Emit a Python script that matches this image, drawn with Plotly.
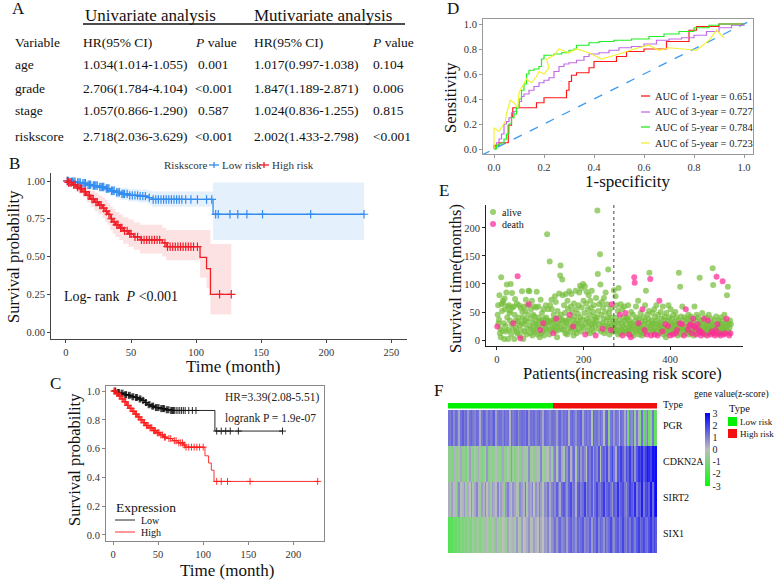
import plotly.graph_objects as go

W, H = 777, 581
FONT = "Liberation Serif"


def fx(p):
    return p / W


def fy(p):
    return 1 - p / H


# ---------------- Panel A: table ----------------
table_vars = ["age", "grade", "stage", "riskscore"]
uni_hr = ["1.034(1.014-1.055)", "2.706(1.784-4.104)", "1.057(0.866-1.290)", "2.718(2.036-3.629)"]
uni_p = ["0.001", "<0.001", "0.587", "<0.001"]
multi_hr = ["1.017(0.997-1.038)", "1.847(1.189-2.871)", "1.024(0.836-1.255)", "2.002(1.433-2.798)"]
multi_p = ["0.104", "0.006", "0.815", "<0.001"]

# ---------------- Panel B: KM by riskscore ----------------
low_t = [0, 3, 8, 12, 16, 20, 25, 30, 34, 38, 42, 48, 56, 63, 66, 113, 229]
low_s = [1.0, 0.995, 0.99, 0.985, 0.975, 0.97, 0.96, 0.95, 0.935, 0.925, 0.915, 0.905, 0.90, 0.89, 0.878, 0.78, 0.78]
low_up = [1.0, 1.0, 1.0, 0.998, 0.995, 0.99, 0.985, 0.978, 0.97, 0.962, 0.955, 0.947, 0.943, 0.935, 0.93, 0.99, 0.99]
low_lo = [1.0, 0.985, 0.975, 0.965, 0.955, 0.948, 0.935, 0.92, 0.90, 0.888, 0.875, 0.865, 0.858, 0.845, 0.83, 0.61, 0.61]
low_cens = [1, 2, 4, 5, 6, 7, 9, 10, 11, 13, 14, 15, 17, 18, 19, 21, 22, 23, 24, 26, 27, 28, 29, 31, 32, 33, 35, 36,
            37, 39, 40, 41, 43, 44, 45, 47, 49, 51, 53, 55, 57, 59, 61, 64, 67, 69, 71, 73, 75, 77, 79, 81, 83, 85,
            87, 89, 92, 96, 101, 108, 112, 115, 117, 126, 132, 139, 151, 188, 229]

high_t = [0, 2, 5, 8, 10, 13, 16, 19, 22, 25, 28, 30, 32, 34, 36, 38, 41, 44, 48, 52, 57, 74, 77, 103, 108, 111, 127]
high_s = [1.0, 0.99, 0.975, 0.96, 0.95, 0.93, 0.905, 0.88, 0.86, 0.84, 0.82, 0.80, 0.78, 0.75, 0.73, 0.71, 0.69,
          0.67, 0.65, 0.63, 0.61, 0.59, 0.565, 0.495, 0.42, 0.25, 0.25]
high_up = [1.0, 1.0, 0.995, 0.99, 0.985, 0.97, 0.955, 0.935, 0.92, 0.905, 0.89, 0.875, 0.855, 0.83, 0.815, 0.795,
           0.78, 0.76, 0.745, 0.725, 0.71, 0.69, 0.675, 0.675, 0.675, 0.583, 0.583]
high_lo = [1.0, 0.975, 0.95, 0.93, 0.915, 0.89, 0.86, 0.83, 0.80, 0.78, 0.755, 0.73, 0.71, 0.675, 0.65, 0.63, 0.61,
           0.585, 0.565, 0.545, 0.52, 0.50, 0.475, 0.36, 0.29, 0.117, 0.117]
high_cens = [1, 2, 3, 4, 6, 7, 9, 11, 12, 14, 15, 17, 18, 20, 21, 23, 24, 26, 27, 29, 31, 33, 35, 37, 39, 40, 42, 43,
             45, 47, 49, 50, 53, 55, 58, 60, 62, 64, 66, 68, 70, 72, 76, 78, 80, 82, 84, 86, 88, 90, 92, 94, 96, 98,
             101, 118, 127]

# ---------------- Panel C: KM by expression ----------------
c_low_t = [0, 4, 8, 12, 16, 20, 24, 28, 32, 35, 38, 42, 46, 52, 58, 63, 113, 188]
c_low_s = [1.0, 0.99, 0.985, 0.975, 0.97, 0.96, 0.955, 0.945, 0.935, 0.92, 0.905, 0.895, 0.885, 0.878, 0.87, 0.865,
           0.722, 0.722]
c_low_cens = [2, 3, 5, 6, 7, 9, 10, 11, 13, 14, 15, 17, 18, 19, 21, 22, 23, 25, 26, 27, 29, 30, 31, 33, 34, 36, 37,
              39, 40, 41, 43, 44, 45, 47, 48, 49, 50, 51, 53, 54, 55, 56, 57, 59, 60, 61, 62, 64, 65, 66, 67, 68, 70,
              72, 74, 76, 78, 80, 84, 88, 92, 115, 120, 125, 130, 139, 188]
c_high_t = [0, 3, 6, 9, 12, 15, 18, 21, 24, 27, 30, 33, 36, 40, 44, 48, 52, 56, 60, 66, 72, 78, 80, 102, 106, 109,
            112, 228]
c_high_s = [1.0, 0.985, 0.965, 0.945, 0.925, 0.90, 0.88, 0.86, 0.84, 0.82, 0.80, 0.78, 0.76, 0.745, 0.725, 0.71,
            0.695, 0.68, 0.67, 0.655, 0.64, 0.625, 0.61, 0.55, 0.50, 0.45, 0.372, 0.372]
c_high_cens = [1, 2, 4, 5, 7, 8, 10, 11, 13, 14, 16, 17, 19, 20, 22, 23, 25, 26, 28, 29, 31, 32, 34, 35, 37, 38, 39,
               41, 42, 43, 45, 46, 47, 49, 50, 51, 53, 55, 57, 58, 62, 64, 68, 70, 73, 75, 77, 79, 81, 84, 87, 90,
               93, 96, 100, 115, 120, 127, 152, 227]

# ---------------- Panel D: ROC ----------------
roc1_x = [0, 0, 0.02, 0.057, 0.07, 0.075, 0.17, 0.20, 0.29, 0.30, 0.31, 0.33, 0.38, 0.40, 0.49, 0.53, 0.60, 0.69,
          0.78, 0.81, 0.90, 1.0]
roc1_y = [0, 0.03, 0.05, 0.19, 0.26, 0.33, 0.37, 0.41, 0.47, 0.54, 0.59, 0.61, 0.65, 0.70, 0.74, 0.78, 0.80, 0.86,
          0.95, 0.98, 1.0, 1.0]
roc3_x = [0, 0.005, 0.01, 0.02, 0.03, 0.04, 0.05, 0.06, 0.07, 0.08, 0.09, 0.10, 0.11, 0.12, 0.14, 0.16, 0.18, 0.20,
          0.22, 0.24, 0.26, 0.28, 0.30, 0.33, 0.36, 0.38, 0.42, 0.46, 0.50, 0.55, 0.60, 0.65, 0.70, 0.75, 0.80, 0.85,
          0.90, 0.95, 1.0]
roc3_y = [0, 0.02, 0.05, 0.08, 0.12, 0.20, 0.22, 0.25, 0.29, 0.30, 0.33, 0.38, 0.42, 0.44, 0.47, 0.50, 0.53, 0.55,
          0.57, 0.62, 0.66, 0.68, 0.69, 0.71, 0.74, 0.76, 0.77, 0.79, 0.81, 0.82, 0.84, 0.87, 0.88, 0.89, 0.91, 0.94,
          0.97, 0.99, 1.0]
roc5_x = [0, 0.01, 0.02, 0.03, 0.04, 0.05, 0.06, 0.07, 0.08, 0.09, 0.10, 0.11, 0.12, 0.13, 0.14, 0.16, 0.18, 0.19,
          0.20, 0.24, 0.27, 0.30, 0.32, 0.33, 0.38, 0.42, 0.48, 0.55, 0.62, 0.68, 0.74, 0.80, 0.86, 0.90, 1.0]
roc5_y = [0, 0.03, 0.04, 0.05, 0.08, 0.12, 0.20, 0.25, 0.28, 0.33, 0.40, 0.47, 0.52, 0.60, 0.63, 0.64, 0.66, 0.72,
          0.75, 0.76, 0.77, 0.79, 0.80, 0.83, 0.85, 0.86, 0.87, 0.88, 0.90, 0.92, 0.94, 0.97, 0.99, 1.0, 1.0]
rocy_x = [0.0, 0.0, 0.02, 0.03, 0.045, 0.05, 0.065, 0.08, 0.095, 0.10, 0.12, 0.13, 0.15, 0.17, 0.18, 0.20, 0.22,
          0.21, 0.24, 0.26, 0.30, 0.33, 0.38, 0.43, 0.50, 0.56, 0.62, 0.66, 0.70, 0.76, 0.81, 0.86, 0.89, 0.92]
rocy_y = [0.0, 0.17, 0.14, 0.17, 0.22, 0.28, 0.39, 0.37, 0.33, 0.45, 0.52, 0.56, 0.53, 0.58, 0.62, 0.60, 0.65,
          0.72, 0.75, 0.80, 0.77, 0.80, 0.77, 0.72, 0.76, 0.80, 0.83, 0.79, 0.81, 0.80, 0.79, 0.87, 0.95, 0.89]
roc_labels = ["AUC of 1-year = 0.651", "AUC of 3-year = 0.727", "AUC of 5-year = 0.784", "AUC of 5-year = 0.723"]
roc_colors = ["#FF1A1A", "#C46BE8", "#22EE22", "#F2F230"]
ref_line = [-0.05, 1.05]

# ---------------- Panel E: survival time per patient ----------------
surv_months = [
    24, 45, 62, 30, 36, 80, 12, 20, 5, 112, 64, 52, 16, 70, 66, 30, 2, 74, 55, 25, 15, 85, 99, 40, 60, 2, 18, 62, 48, 35,
    52, 100, 10, 28, 84, 58, 19, 30, 60, 2, 45, 73, 35, 22, 15, 65, 12, 114, 33, 40, 62, 26, 8, 3, 57, 18, 30, 87, 50, 40,
    2, 60, 28, 15, 36, 52, 72, 10, 33, 20, 62, 45, 88, 64, 87, 25, 12, 38, 55, 20, 70, 8, 30, 45, 18, 60, 42, 14, 28, 35,
    58, 86, 22, 10, 25, 60, 40, 33, 5, 18, 72, 12, 35, 48, 24, 15, 30, 55, 8, 38, 28, 20, 62, 40, 17, 189, 35, 55, 26, 32,
    10, 140, 62, 18, 35, 72, 55, 20, 30, 12, 45, 36, 25, 78, 15, 68, 38, 22, 5, 52, 30, 40, 18, 83, 28, 115, 133, 45, 20, 36,
    108, 80, 35, 18, 62, 25, 48, 12, 82, 30, 34, 10, 70, 56, 20, 38, 87, 45, 28, 15, 60, 82, 22, 50, 36, 24, 8, 65, 42, 30,
    18, 88, 55, 12, 28, 35, 47, 20, 62, 85, 30, 97, 40, 15, 92, 58, 25, 36, 100, 70, 22, 48, 96, 10, 30, 65, 86, 38, 16, 55,
    33, 80, 24, 45, 12, 70, 58, 28, 88, 20, 36, 50, 15, 62, 30, 42, 25, 8, 75, 35, 40, 231, 118, 52, 20, 64, 28, 153, 99, 15,
    45, 68, 30, 20, 58, 38, 75, 12, 26, 50, 85, 18, 35, 64, 25, 40, 126, 22, 48, 10, 30, 56, 18, 40, 64, 25, 15, 34, 20, 89,
    20, 28, 15, 78, 40, 62, 18, 30, 52, 10, 93, 35, 22, 45, 12, 64, 18, 30, 55, 8, 25, 40, 15, 60, 35, 20, 48, 12, 28, 38,
    15, 40, 62, 22, 10, 35, 18, 28, 5, 50, 30, 20, 12, 45, 25, 8, 112, 102, 35, 18, 60, 28, 40, 15, 22, 70, 30, 10, 38, 20,
    25, 48, 15, 32, 8, 55, 20, 40, 12, 28, 18, 62, 35, 88, 22, 10, 45, 30, 15, 38, 52, 120, 25, 109, 20, 8, 35, 28, 48, 15,
    30, 18, 55, 10, 40, 22, 28, 62, 15, 35, 8, 45, 20, 30, 70, 12, 25, 50, 18, 38, 28, 15, 60, 22, 10, 35, 42, 18, 28, 5,
    48, 20, 12, 35, 25, 62, 15, 40, 30, 8, 55, 22, 18, 38, 28, 10, 45, 20, 32, 15, 25, 50, 12, 28, 40, 18, 8, 35, 22, 120,
    15, 30, 95, 20, 42, 10, 28, 60, 18, 35, 22, 8, 40, 25, 15, 55, 30, 12, 20, 38, 18, 45, 10, 25, 35, 15, 28, 42, 20, 12,
    30, 18, 38, 8, 25, 60, 15, 22, 35, 10, 45, 20, 28, 12, 40, 18, 25, 111, 30, 15, 8, 35, 20, 48, 12, 28, 18, 38, 22, 10,
    25, 40, 15, 30, 8, 22, 35, 18, 45, 12, 28, 20, 10, 38, 25, 15, 30, 128, 98, 20, 12, 35, 8, 25, 18, 42, 113, 15, 28, 10,
    22, 35, 12, 30, 18, 8, 40, 25, 15, 28, 105, 20, 35, 10, 45, 22, 12, 30, 18, 38, 80, 25, 95, 15, 30, 8, 22, 35, 12, 28,
]
dead_ids = [1, 38, 48, 54, 74, 100, 107, 130, 137, 168, 176, 204, 228, 244, 263, 265,
            284, 290, 297, 305, 309, 317, 318, 327, 336, 341, 346, 354, 356, 364, 371, 375, 382, 389, 395, 400,
            406, 413, 416, 422, 427, 432, 436, 441, 444, 447, 450, 453, 455, 458, 460, 463, 466, 470, 471, 475,
            478, 485, 487, 493, 496, 501, 503, 505, 507, 509, 513, 516, 521, 524, 527, 530, 536, 539]
risk_cutoff = 270

# ---------------- Panel F: heatmap ----------------
genes = ["PGR", "CDKN2A", "SIRT2", "SIX1"]
pgr = [1.2, 1.0, 1.4, 0.8, 1.3, 1.1, 0.4, 1.2, 1.5, 1.0, 1.3, 0.6, 1.2, 1.4, 1.1, 0.9, 1.3, 1.2, 0.3, 1.1,
       1.4, 1.2, 0.8, 1.3, 1.0, 1.2, 1.5, 0.5, 1.1, 1.3, 1.2, 0.9, 1.4, 1.1, 1.2, 0.2, 1.3, 1.0, 1.2, 1.4,
       0.7, 1.1, 1.3, 1.2, 1.0, 1.5, 0.6, 1.2, 1.1, 1.3, 0.9, 1.2, 1.4, 1.0, 0.4, 1.3, 1.2, 1.1, 0.8, 1.2,
       1.3, 1.1, 0.5, 1.2, 1.4, 0.9, 1.2, 1.0, 1.3, 0.2, 1.2, 1.4, 1.1, 0.7, 1.3, 1.2, 1.5, 0.4, 1.1, 1.3,
       1.0, 1.2, -0.3, 1.4, 1.1, 1.2, 0.8, 1.3, 1.0, 0.1, 1.2, 1.4, -0.8, 1.1, 1.3, 0.6, 1.2, 1.0, -0.5, 1.3,
       1.1, 0.3, 1.2, -1.2, 1.0, 0.8, 1.3, -0.6, 1.1, 0.2, -1.0, 1.2, -1.5, 0.5, 1.0, -1.3, -0.8, 1.1, -1.6, -1.2]
cdkn2a = [-0.8, -0.6, -1.0, 0.2, -0.7, -0.9, -0.5, 0.4, -0.8, -0.6, -1.1, -0.3, 0.5, -0.7, -0.9, -0.4, -0.8, 0.3, -0.6, -1.0,
          -0.7, -0.2, 0.6, -0.8, -0.5, -0.9, -0.6, 0.1, -0.7, -0.4, -1.0, 0.4, -0.6, -0.8, -0.3, -0.7, 0.7, -0.5, -0.9, -0.6,
          -0.2, -0.8, 0.3, -0.5, -0.7, -0.4, 0.8, -0.6, -0.3, -0.8, 0.2, -0.5, -0.6, 0.9, -0.4, -0.7, 0.1, -0.3, 0.5, -0.5,
          0.6, 1.0, -0.2, 0.8, 1.2, 0.4, -0.4, 1.1, 0.7, 1.4, 0.2, 0.9, 1.3, -0.3, 1.0, 1.5, 0.6, 1.2, 0.8, 0.0,
          1.4, 1.1, 1.6, 0.5, 1.3, 0.9, 1.7, -0.2, 1.2, 1.5, 1.0, 1.8, 0.6, 1.4, 1.9, 1.1, 0.3, 1.6, 1.3, 2.0,
          1.5, 0.8, 1.8, 1.4, 2.1, 1.2, 1.9, 0.7, 1.6, 2.2, 1.8, 2.4, 1.5, 2.0, 2.6, 2.3, 1.9, 2.7, 2.5, 2.8]
sirt2 = [0.3, -0.4, 0.5, 0.1, -0.6, 0.4, 0.8, -0.2, 0.2, 0.6, -0.5, 0.3, 0.0, 0.7, -0.3, 0.4, 0.9, 0.1, -0.6, 0.5,
         0.2, 0.8, -0.1, 0.4, -0.5, 0.6, 0.3, 0.1, 0.9, -0.3, 0.5, 0.2, -0.7, 0.6, 1.0, 0.3, -0.2, 0.7, 0.4, 0.1,
         -0.4, 0.8, 0.5, 0.2, 1.1, -0.3, 0.6, 0.4, 0.9, -0.1, 0.7, 0.3, 1.0, 0.5, -0.2, 0.8, 0.6, 1.2, 0.4, 0.9,
         1.2, 0.8, 1.5, 1.0, 0.4, 1.3, 1.6, 1.1, 0.7, 1.4, 1.8, 0.9, 1.2, 0.3, 1.5, 1.7, 1.0, 1.3, 2.0, 0.8,
         1.4, 1.1, 1.6, 0.5, 1.3, 1.9, 1.2, 1.0, 1.5, 2.1, 0.9, 1.4, 1.7, 1.2, 0.6, 1.6, 1.3, 2.2, 1.0, 1.5,
         1.8, 1.1, 0.7, 1.4, 2.0, 1.6, 1.2, 2.3, 1.0, 1.7, 1.4, 2.5, 1.1, 1.8, 2.0, 1.5, 2.6, 1.3, 2.4, 2.8]
six1 = [-1.7, -1.5, -1.6, -1.2, -1.4, -1.0, -1.3, -0.9, -1.1, -0.8, -1.0, -0.7, -0.9, -1.1, -0.5, -0.8, -0.7, -0.4, -0.9, -0.6,
        -0.5, -0.8, 0.1, -0.6, -0.7, -0.3, -0.6, 0.3, -0.5, -0.4, -0.7, 0.0, -0.3, -0.6, 0.4, -0.2, -0.5, 0.2, -0.4, 0.6,
        -0.1, -0.3, 0.5, 0.0, -0.4, 0.3, 0.7, -0.2, 0.1, 0.5, 0.2, -0.1, 0.8, 0.3, 0.0, 0.6, 0.4, 0.9, 0.2, 0.7,
        0.9, 1.2, 0.6, 1.1, 1.4, 0.8, 1.0, 1.3, 0.5, 1.2, 1.5, 0.9, 1.1, 0.7, 1.4, 1.0, 1.3, 1.6, 0.8, 1.2,
        1.0, 1.5, 0.6, 1.3, 1.1, 1.7, 0.9, 1.4, 1.2, 0.7, 1.5, 1.0, 1.3, 1.8, 1.1, 0.8, 1.4, 1.6, 1.0, 1.3,
        1.9, 1.2, 0.9, 1.5, 1.1, 1.7, 1.4, 1.0, 1.6, 2.0, 1.2, 1.5, 1.8, 1.3, 1.1, 1.7, 2.1, 1.4, 1.9, 1.6]
sample_type = ["Low risk"] * 60 + ["High risk"] * 60
cbar_ticks = [3, 2, 1, 0, -1, -2, -3]

# ---------------- colours ----------------
BLUE = "#338CF0"
RED = "#F01E28"

fig = go.Figure()
annotations = []
shapes = []


def text(s, x, y, size, anchor="left", angle=0, color="#111111"):
    annotations.append(dict(text=s, x=fx(x), y=fy(y), xref="paper", yref="paper", xanchor=anchor,
                            yanchor="middle", showarrow=False, textangle=angle,
                            font=dict(family=FONT, size=size, color=color)))


def pline(x0, y0, x1, y1, color, width=1.0, dash="solid"):
    shapes.append(dict(type="line", xref="paper", yref="paper", x0=fx(x0), y0=fy(y0), x1=fx(x1), y1=fy(y1),
                       line=dict(color=color, width=width, dash=dash)))


def prect(x0, y0, x1, y1, color):
    shapes.append(dict(type="rect", xref="paper", yref="paper", x0=fx(x0), y0=fy(y0), x1=fx(x1), y1=fy(y1),
                       line=dict(width=0), fillcolor=color))


def pcircle(cx, cy, r, color):
    shapes.append(dict(type="circle", xref="paper", yref="paper", x0=fx(cx - r), y0=fy(cy + r), x1=fx(cx + r),
                       y1=fy(cy - r), line=dict(width=0), fillcolor=color))


def esc(s):
    return s.replace("<", "&lt;")


def step_at(times, surv, t):
    v = surv[0]
    for ti, si in zip(times, surv):
        if ti <= t:
            v = si
        else:
            break
    return v


# ---------------- Panel A ----------------
text("A", 10, 9, 17)
text("Univariate analysis", 83, 15, 17)
text("Mutivariate analysis", 252, 15, 17)
pline(83, 24, 405, 24, "#111111", 1.5)
TS = 13.5
text("Variable", 13, 43, TS)
text("HR(95% CI)", 81, 43, TS)
text("<i>P</i> value", 193, 43, TS)
text("HR(95% CI)", 252, 43, TS)
text("<i>P</i> value", 370, 43, TS)
row_y = [65, 88, 111, 136]
for i, v in enumerate(table_vars):
    yy = row_y[i]
    text(v, 13, yy, TS)
    text(uni_hr[i], 81, yy, TS)
    text(esc(uni_p[i]), 193 if uni_p[i].startswith("<") else 196, yy, TS)
    text(multi_hr[i], 252, yy, TS)
    text(esc(multi_p[i]), 371, yy, TS)

# ---------------- Panel B ----------------
for t, up, lo, col in [(low_t, low_up, low_lo, "rgba(51,140,240,0.13)"),
                       (high_t, high_up, high_lo, "rgba(240,30,40,0.13)")]:
    fig.add_trace(go.Scatter(x=t, y=up, mode="lines", line=dict(width=0, shape="hv"), xaxis="x", yaxis="y",
                             hoverinfo="skip"))
    fig.add_trace(go.Scatter(x=t, y=lo, mode="lines", line=dict(width=0, shape="hv"), fill="tonexty",
                             fillcolor=col, xaxis="x", yaxis="y", hoverinfo="skip"))
for t, s, cens, col in [(low_t, low_s, low_cens, BLUE), (high_t, high_s, high_cens, RED)]:
    fig.add_trace(go.Scatter(x=t, y=s, mode="lines", line=dict(color=col, width=1.3, shape="hv"),
                             xaxis="x", yaxis="y"))
    fig.add_trace(go.Scatter(x=cens, y=[step_at(t, s, c) for c in cens], mode="markers",
                             marker=dict(symbol="cross-thin", size=6, line=dict(width=1.2, color=col)),
                             xaxis="x", yaxis="y"))
text("B", 7, 163, 17)
text("Riskscore", 162, 165, 11, color="#333333")
pline(209, 165, 219, 165, BLUE, 1.3)
pline(214, 162, 214, 168, BLUE, 1.3)
text("Low risk", 220, 165, 11, color="#333333")
pline(259, 165, 269, 165, RED, 1.3)
pline(264, 162, 264, 168, RED, 1.3)
text("High risk", 270, 165, 11, color="#333333")
text("Log- rank  <i>P</i> &lt;0.001", 62, 296, 14)
text("Time (month)", 233, 366, 17, anchor="center")
text("Survival probability", 13, 257, 16.5, anchor="center", angle=-90)

# ---------------- Panel C ----------------
for t, s, cens, col in [(c_low_t, c_low_s, c_low_cens, "#111111"), (c_high_t, c_high_s, c_high_cens, "#FF1A1A")]:
    fig.add_trace(go.Scatter(x=t, y=s, mode="lines", line=dict(color=col, width=0.9, shape="hv"),
                             xaxis="x2", yaxis="y2"))
    fig.add_trace(go.Scatter(x=cens, y=[step_at(t, s, c) for c in cens], mode="markers",
                             marker=dict(symbol="cross-thin", size=5, line=dict(width=0.9, color=col)),
                             xaxis="x2", yaxis="y2"))
text("C", 48, 383, 17)
text("HR=3.39(2.08-5.51)", 223, 397, 11.5, color="#222222")
text("logrank P = 1.9e-07", 223, 418, 11.5, color="#222222")
text("Expression", 114, 507, 13.5)
pline(115, 520, 135, 520, "#111111", 0.9)
text("Low", 139, 520, 10)
pline(115, 532, 135, 532, "#FF1A1A", 0.9)
text("High", 139, 532, 10)
text("Time (month)", 227, 570, 17, anchor="center")
text("Survival probability", 75, 460, 16.5, anchor="center", angle=-90)

# ---------------- Panel D ----------------
fig.add_trace(go.Scatter(x=ref_line, y=ref_line, mode="lines", line=dict(color="#3D9BF2", width=1.3, dash="dash"),
                         xaxis="x3", yaxis="y3"))
for xs, ys, col, shp in [(roc1_x, roc1_y, roc_colors[0], "hv"), (roc3_x, roc3_y, roc_colors[1], "hv"),
                         (roc5_x, roc5_y, roc_colors[2], "hv"), (rocy_x, rocy_y, roc_colors[3], "linear")]:
    fig.add_trace(go.Scatter(x=xs, y=ys, mode="lines", line=dict(color=col, width=1.2, shape=shp),
                             xaxis="x3", yaxis="y3"))
text("D", 445, 9, 17)
leg_y = [96, 112, 127, 143]
for lab, col, yy in zip(roc_labels, roc_colors, leg_y):
    pline(641, yy, 650, yy, col, 1.3)
    text(lab, 653, yy, 10.5, color="#222222")
text("1-specificity", 627, 181, 17, anchor="center")
text("Sensitivity", 450, 97, 16.5, anchor="center", angle=-90)

# ---------------- Panel E ----------------
patient_rank = list(range(1, len(surv_months) + 1))
dead = set(dead_ids)
ax = [r for r in patient_rank if r not in dead]
ay = [surv_months[r - 1] for r in ax]
dx = [r for r in patient_rank if r in dead]
dy = [surv_months[r - 1] for r in dx]
GREEN_PT = "rgba(118,190,60,0.72)"
PINK_PT = "rgba(255,40,150,0.72)"
fig.add_trace(go.Scatter(x=ax, y=ay, mode="markers", marker=dict(color=GREEN_PT, size=6, line=dict(width=0)),
                         xaxis="x4", yaxis="y4"))
fig.add_trace(go.Scatter(x=dx, y=dy, mode="markers", marker=dict(color=PINK_PT, size=6, line=dict(width=0)),
                         xaxis="x4", yaxis="y4"))
shapes.append(dict(type="line", xref="x4", yref="y4 domain", x0=risk_cutoff, x1=risk_cutoff, y0=0, y1=1,
                   line=dict(color="#444444", width=1, dash="dot")))
text("E", 437, 190, 17)
pcircle(493, 212, 3, GREEN_PT)
text("alive", 500, 212, 10)
pcircle(493, 224, 3, PINK_PT)
text("death", 500, 224, 10)
text("Patients(increasing risk score)", 622, 373, 16.5, anchor="center")
text("Survival time(months)", 455, 279, 16.5, anchor="center", angle=-90)

# ---------------- Panel F ----------------
fig.add_trace(go.Heatmap(z=[pgr, cdkn2a, sirt2, six1], y=genes, zmin=-3, zmax=3,
                         colorscale=[[0, "#00FF00"], [0.5, "#BEBEBE"], [1, "#0000FF"]],
                         xaxis="x5", yaxis="y5", hoverinfo="skip",
                         colorbar=dict(x=fx(705), xanchor="left", y=fy(449.5), yanchor="middle",
                                       lenmode="pixels", len=73, thicknessmode="pixels", thickness=5,
                                       xpad=0, ypad=0, outlinewidth=0, tickvals=cbar_ticks,
                                       ticktext=[str(v) for v in cbar_ticks], ticks="",
                                       tickfont=dict(family=FONT, size=10, color="#222222"))))
type_code = [0 if s == "Low risk" else 1 for s in sample_type]
fig.add_trace(go.Heatmap(z=[type_code], zmin=0, zmax=1, showscale=False,
                         colorscale=[[0, "#00F000"], [0.5, "#00F000"], [0.5, "#F01010"], [1, "#F01010"]],
                         xaxis="x6", yaxis="y6", hoverinfo="skip"))
text("F", 432, 390, 17)
text("Type", 661, 405, 10)
for g, yy in zip(genes, [425, 461, 497, 533]):
    text(g, 661, yy, 10)
text("gene value(z-score)", 692, 394, 9.5)
text("Type", 727, 409, 10.5)
prect(728, 417, 737, 426, "#00F000")
text("Low risk", 738, 421.5, 9)
prect(728, 429, 737, 438, "#F01010")
text("High risk", 738, 433.5, 9)

# ---------------- axes ----------------
tf = dict(family=FONT, size=10.5, color="#333333")


def base_axis(dom, rng, tickvals=None, ticktext=None, line="#444444", mirror=False, anchor=None):
    d = dict(domain=dom, range=rng, showgrid=False, zeroline=False, showline=True, linecolor=line, linewidth=1,
             mirror=mirror, ticks="outside", ticklen=3, tickcolor=line, tickfont=tf, fixedrange=True)
    if tickvals is not None:
        d["tickvals"] = tickvals
    if ticktext is not None:
        d["ticktext"] = ticktext
    if anchor:
        d["anchor"] = anchor
    return d


layout = dict(
    width=W, height=H, margin=dict(l=0, r=0, t=0, b=0), paper_bgcolor="white", plot_bgcolor="white",
    showlegend=False, hovermode=False, font=dict(family=FONT),
    xaxis=base_axis([fx(51), fx(407)], [-11.5, 262], [0, 50, 100, 150, 200, 250], anchor="y"),
    yaxis=base_axis([fy(339), fy(173)], [-0.046, 1.053], [0, 0.25, 0.5, 0.75, 1.0],
                    ["0.00", "0.25", "0.50", "0.75", "1.00"], anchor="x"),
    xaxis2=base_axis([fx(106), fx(324)], [-7.8, 234], [0, 50, 100, 150, 200], line="#888888", mirror=True,
                     anchor="y2"),
    yaxis2=base_axis([fy(541), fy(386)], [-0.042, 1.035], [0, 0.2, 0.4, 0.6, 0.8, 1.0],
                     ["0.0", "0.2", "0.4", "0.6", "0.8", "1.0"], line="#888888", mirror=True, anchor="x2"),
    xaxis3=base_axis([fx(483), fx(753)], [-0.044, 1.036], [0, 0.2, 0.4, 0.6, 0.8, 1.0],
                     ["0.0", "0.2", "0.4", "0.6", "0.8", "1.0"], line="#999999", mirror=True, anchor="y3"),
    yaxis3=base_axis([fy(154), fy(19)], [-0.04, 1.04], [0, 0.2, 0.4, 0.6, 0.8, 1.0],
                     ["0.0", "0.2", "0.4", "0.6", "0.8", "1.0"], line="#999999", mirror=True, anchor="x3"),
    xaxis4=base_axis([fx(486), fx(743)], [-25, 568], [0, 200, 400], line="#222222", anchor="y4"),
    yaxis4=base_axis([fy(346), fy(205)], [-10.7, 241], [0, 50, 100, 150, 200], line="#222222", anchor="x4"),
    xaxis5=dict(domain=[fx(448), fx(657)], range=[-0.5, 119.5], showticklabels=False, showgrid=False,
                zeroline=False, showline=False, ticks="", anchor="y5", fixedrange=True),
    yaxis5=dict(domain=[fy(553), fy(410)], autorange="reversed", showticklabels=False, showgrid=False,
                zeroline=False, showline=False, ticks="", anchor="x5", type="category", fixedrange=True),
    xaxis6=dict(domain=[fx(448), fx(657)], range=[-0.5, 119.5], showticklabels=False, showgrid=False,
                zeroline=False, showline=False, ticks="", anchor="y6", fixedrange=True),
    yaxis6=dict(domain=[fy(408.5), fy(403)], showticklabels=False, showgrid=False, zeroline=False,
                showline=False, ticks="", anchor="x6", fixedrange=True),
    annotations=annotations,
    shapes=shapes,
)
fig.update_layout(**layout)
fig.write_html("out.html", config={"displayModeBar": False, "staticPlot": True},
               post_script="document.body.style.margin='0px';document.body.style.overflow='hidden';")
